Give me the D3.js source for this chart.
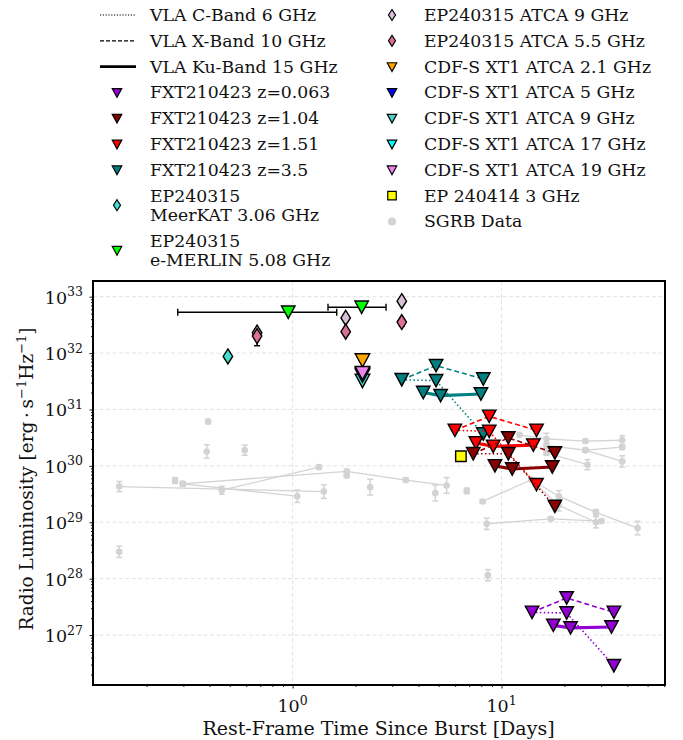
<!DOCTYPE html>
<html>
<head>
<meta charset="utf-8">
<title>Radio luminosity vs time</title>
<style>
  body { margin: 0; background: #fff; }
  text { font-family: "DejaVu Serif", serif; fill: #111; }
</style>
</head>
<body>
<script src="https://d3js.org/d3.v7.min.js"></script>
<script>
var width = 683, height = 740;
var plot = {left: 93, right: 665, top: 281, bottom: 685};

// ---- data: [rest-frame days, luminosity] ----
// FXT210423 upper limits, per redshift and VLA band
var fxt063C  = [[14.0, 2.53e27], [20.5, 2.46e27], [34.5, 2.86e26]];
var fxt063X  = [[14.0, 2.53e27], [20.5, 4.55e27], [34.5, 2.53e27]];
var fxt063Ku = [[17.7, 1.49e27], [21.4, 1.34e27], [33.6, 1.39e27]];

var fxt104C  = [[7.32, 1.64e30], [10.78, 1.64e30], [18.0, 1.91e29]];
var fxt104X  = [[7.32, 1.64e30], [10.78, 3.13e30], [18.0, 1.69e30]];
var fxt104Ku = [[9.3, 1.0e30], [11.25, 8.8e29], [17.5, 9.55e29]];

var fxt151C  = [[5.98, 4.27e30], [8.73, 4.1e30], [14.7, 4.64e29]];
var fxt151X  = [[5.98, 4.27e30], [8.73, 7.55e30], [14.7, 4.27e30]];
var fxt151Ku = [[7.54, 2.55e30], [9.12, 2.22e30], [14.2, 2.34e30]];

var fxt35C  = [[3.33, 3.37e31], [4.86, 3.24e31], [8.18, 3.68e30]];
var fxt35X  = [[3.33, 3.37e31], [4.86, 5.98e31], [8.18, 3.47e31]];
var fxt35Ku = [[4.22, 2.0e31], [5.11, 1.76e31], [7.97, 1.88e31]];

// EP240315
var epMeerkat = [[0.49, 8.7e31]];
var epMerlin  = [[0.953, 5.3e32], [2.14, 6.5e32]];
var epMerlinTimeErr = [[0.282, 1.626], [1.477, 2.80]];
var epAtca9   = [[0.676, 2.3e32], [1.795, 4.2e32], [3.33, 8.3e32]];
var epAtca55  = [[0.676, 2.0e32], [1.795, 2.4e32], [3.33, 3.55e32]];
var epAtca55Err = [[1.35e32, 2.7e32], null, [3.0e32, 3.9e32]];

// CDF-S XT1 (ATCA)
var cdfs21 = [[2.16, 7.4e31]];
var cdfs5  = [[2.16, 4.2e31]];
var cdfs9  = [[2.16, 3.2e31]];
var cdfs17 = [[2.16, 4.0e31]];
var cdfs19 = [[2.16, 4.4e31]];

// EP 240414
var ep240414 = [[6.39, 1.48e30]];

// SGRB comparison sample: [days, luminosity, error in dex]
var sgrbTracks = [
  [[0.148, 4.3e29, 0.09], [1.41, 3.5e29, 0.12]],
  [[0.298, 4.8e29, 0.04], [1.053, 2.9e29, 0.11]],
  [[0.458, 3.7e29, 0.07], [1.337, 9.5e29, 0.03]],
  [[0.298, 4.8e29, 0.04], [1.815, 8.0e29, 0.03], [3.48, 5.6e29, 0.04], [5.46, 4.5e29, 0.14]],
  [[8.12, 2.34e29, 0.03], [13.9, 5.7e29, 0.03], [18.8, 2.9e29, 0.1], [28.3, 1.5e29, 0.05], [44.8, 7.9e28, 0.12]],
  [[8.49, 9.4e28, 0.1], [17.2, 1.15e29, 0.03], [30.1, 1.05e29, 0.03]],
  [[14.5, 4.8e29, 0.03], [18.8, 2.0e29, 0.1], [28.3, 1.0e29, 0.1]],
  [[12.2, 3.55e30, 0.03], [16.4, 3.0e30, 0.1], [25.2, 2.75e30, 0.03], [37.8, 2.85e30, 0.08]],
  [[16.4, 2.3e30, 0.05], [25.2, 1.9e30, 0.03], [37.8, 2.15e30, 0.04]],
  [[16.4, 1.7e30, 0.04], [25.8, 1.05e30, 0.09]],
  [[25.2, 1.9e30, 0.03], [37.8, 1.2e30, 0.1]]
];
var sgrbSingles = [
  [0.274, 5.5e29, 0.05], [0.148, 3.0e28, 0.1], [0.394, 6.1e30, 0.04],
  [0.388, 1.8e30, 0.12], [0.59, 1.9e30, 0.09], [1.815, 6.7e29, 0.03],
  [2.35, 4.2e29, 0.14], [4.82, 3.3e29, 0.14], [6.81, 3.6e29, 0.05],
  [8.6, 1.15e28, 0.1]
];

var xTickValues = [1, 10];
var yTickValues = [1e27, 1e28, 1e29, 1e30, 1e31, 1e32, 1e33];

// ---- scales ----
var x = d3.scaleLog().domain([0.1108, 60.6]).range([plot.left, plot.right]);
var y = d3.scaleLog().domain([1.303e26, 1.897e33]).range([plot.bottom, plot.top]);

var svg = d3.select('body').append('svg')
  .attr('width', width).attr('height', height);

svg.append('defs').append('clipPath').attr('id', 'clip')
  .append('rect').attr('x', plot.left).attr('y', plot.top)
  .attr('width', plot.right - plot.left).attr('height', plot.bottom - plot.top);

// grid
var grid = svg.append('g').attr('stroke', '#e3e3e3').attr('stroke-width', 1)
  .attr('stroke-dasharray', '4,2.5');
grid.selectAll('.gx').data(xTickValues).enter().append('line')
  .attr('x1', function(d){ return x(d); }).attr('x2', function(d){ return x(d); })
  .attr('y1', plot.top).attr('y2', plot.bottom);
grid.selectAll('.gy').data(yTickValues).enter().append('line')
  .attr('y1', function(d){ return y(d); }).attr('y2', function(d){ return y(d); })
  .attr('x1', plot.left).attr('x2', plot.right);

// marker shapes
function triDown(s) {
  var h = s * 0.92;
  return 'M' + (-s/2) + ',' + (-h/2) + 'L' + (s/2) + ',' + (-h/2) + 'L0,' + (h/2) + 'Z';
}
function diamond(w, h) {
  return 'M0,' + (-h/2) + 'L' + (w/2) + ',0L0,' + (h/2) + 'L' + (-w/2) + ',0Z';
}
function square(s) {
  return 'M' + (-s/2) + ',' + (-s/2) + 'h' + s + 'v' + s + 'h' + (-s) + 'Z';
}

var body = svg.append('g').attr('clip-path', 'url(#clip)');
var line = d3.line().x(function(d){ return x(d[0]); }).y(function(d){ return y(d[1]); });

// SGRB
var gray = '#d3d3d3';
sgrbTracks.forEach(function(tr) {
  body.append('path').datum(tr).attr('d', line)
    .attr('fill', 'none').attr('stroke', gray).attr('stroke-width', 1.3);
});
var sgrbAll = [].concat.apply([], sgrbTracks).concat(sgrbSingles);
var eb = body.append('g').attr('stroke', gray).attr('stroke-width', 1.5);
sgrbAll.forEach(function(d) {
  var px = x(d[0]), y1 = y(d[1] * Math.pow(10, -d[2])), y2 = y(d[1] * Math.pow(10, d[2]));
  eb.append('line').attr('x1', px).attr('x2', px).attr('y1', y1).attr('y2', y2);
  eb.append('line').attr('x1', px - 3).attr('x2', px + 3).attr('y1', y1).attr('y2', y1);
  eb.append('line').attr('x1', px - 3).attr('x2', px + 3).attr('y1', y2).attr('y2', y2);
});
body.append('g').selectAll('circle').data(sgrbAll).enter().append('circle')
  .attr('cx', function(d){ return x(d[0]); }).attr('cy', function(d){ return y(d[1]); })
  .attr('r', 3.3).attr('fill', gray);

// FXT210423
var fxtGroups = [
  {color: '#9400d3', C: fxt063C, X: fxt063X, Ku: fxt063Ku},
  {color: '#008080', C: fxt35C, X: fxt35X, Ku: fxt35Ku},
  {color: '#ff0000', C: fxt151C, X: fxt151X, Ku: fxt151Ku},
  {color: '#8b0000', C: fxt104C, X: fxt104X, Ku: fxt104Ku}
];
var bandStyle = {
  C:  {dash: '1.5,2.4', w: 1.6},
  X:  {dash: '5,3', w: 1.6},
  Ku: {dash: null, w: 3.2}
};
function drawMarkers(g, data, path, fill) {
  g.selectAll(null).data(data).enter().append('path')
    .attr('d', path)
    .attr('transform', function(d){ return 'translate(' + x(d[0]) + ',' + y(d[1]) + ')'; })
    .attr('fill', fill).attr('stroke', '#000').attr('stroke-width', 1.4)
    .attr('stroke-linejoin', 'miter');
}
fxtGroups.forEach(function(gr) {
  ['C', 'X', 'Ku'].forEach(function(b) {
    body.append('path').datum(gr[b]).attr('d', line)
      .attr('fill', 'none').attr('stroke', gr.color)
      .attr('stroke-width', bandStyle[b].w)
      .attr('stroke-dasharray', bandStyle[b].dash);
  });
  var g = body.append('g');
  drawMarkers(g, gr.C.concat(gr.X.slice(1)).concat(gr.Ku), triDown(13.5), gr.color);
});

// EP240315 error bars
var errG = body.append('g').attr('stroke', '#000').attr('stroke-width', 1.4);
epMerlin.forEach(function(d, i) {
  var e = epMerlinTimeErr[i], py = y(d[1]);
  errG.append('line').attr('x1', x(e[0])).attr('x2', x(e[1])).attr('y1', py).attr('y2', py);
  errG.append('line').attr('x1', x(e[0])).attr('x2', x(e[0])).attr('y1', py - 3.5).attr('y2', py + 3.5);
  errG.append('line').attr('x1', x(e[1])).attr('x2', x(e[1])).attr('y1', py - 3.5).attr('y2', py + 3.5);
});
epAtca55.forEach(function(d, i) {
  var e = epAtca55Err[i];
  if (!e) return;
  var px = x(d[0]);
  errG.append('line').attr('x1', px).attr('x2', px).attr('y1', y(e[0])).attr('y2', y(e[1]));
  errG.append('line').attr('x1', px - 3).attr('x2', px + 3).attr('y1', y(e[0])).attr('y2', y(e[0]));
  errG.append('line').attr('x1', px - 3).attr('x2', px + 3).attr('y1', y(e[1])).attr('y2', y(e[1]));
});
var mk = body.append('g');
drawMarkers(mk, epMeerkat, diamond(9.5, 15), '#40e0d0');
drawMarkers(mk, epMerlin, triDown(13.5), '#00ff00');
drawMarkers(mk, epAtca9, diamond(9.5, 15), '#d8bfd8');
drawMarkers(mk, epAtca55, diamond(9.5, 15), '#db7093');

// CDF-S XT1
drawMarkers(mk, cdfs21, triDown(14.5), '#ffa500');
drawMarkers(mk, cdfs5, triDown(14.5), '#0000ff');
drawMarkers(mk, cdfs9, triDown(14.5), '#48d1cc');
drawMarkers(mk, cdfs17, triDown(14.5), '#00ffff');
drawMarkers(mk, cdfs19, triDown(14.5), '#ee82ee');

// EP 240414
drawMarkers(mk, ep240414, square(10.5), '#ffff00');

// ---- axes ----
function minorTicks(lo, hi) {
  var out = [];
  for (var e = Math.floor(Math.log10(lo)) - 1; e <= Math.ceil(Math.log10(hi)); e++) {
    for (var k = 1; k < 10; k++) {
      var v = k * Math.pow(10, e);
      if (v >= lo && v <= hi) out.push(v);
    }
  }
  return out;
}
var xMinor = minorTicks(x.domain()[0], x.domain()[1]).filter(function(v){ return xTickValues.indexOf(v) < 0; });
var yMinor = minorTicks(y.domain()[0], y.domain()[1]).filter(function(v){
  return yTickValues.every(function(t){ return Math.abs(v / t - 1) > 1e-6; });
});

var xAxisMinor = d3.axisBottom(x).tickValues(xMinor).tickSize(2).tickFormat('');
var xAxisMajor = d3.axisBottom(x).tickValues(xTickValues).tickSize(3.5).tickFormat('');
var yAxisMinor = d3.axisLeft(y).tickValues(yMinor).tickSize(2).tickFormat('');
var yAxisMajor = d3.axisLeft(y).tickValues(yTickValues).tickSize(3.5).tickFormat('');

[xAxisMinor, xAxisMajor].forEach(function(a) {
  svg.append('g').attr('transform', 'translate(0,' + plot.bottom + ')').call(a)
    .call(function(g){ g.select('.domain').remove(); g.selectAll('line').attr('stroke', '#000').attr('stroke-width', 0.9); });
});
[yAxisMinor, yAxisMajor].forEach(function(a) {
  svg.append('g').attr('transform', 'translate(' + plot.left + ',0)').call(a)
    .call(function(g){ g.select('.domain').remove(); g.selectAll('line').attr('stroke', '#000').attr('stroke-width', 0.9); });
});

function powLabel(sel, exp, anchor) {
  sel.attr('text-anchor', anchor).attr('font-size', 17.5);
  sel.append('tspan').text('10');
  sel.append('tspan').attr('font-size', 12.5).attr('dy', -7.5).text(exp);
}
xTickValues.forEach(function(v) {
  powLabel(svg.append('text').attr('x', x(v)).attr('y', 712), String(Math.round(Math.log10(v))), 'middle');
});
yTickValues.forEach(function(v) {
  powLabel(svg.append('text').attr('x', 83).attr('y', y(v) + 7), String(Math.round(Math.log10(v))), 'end');
});

// frame
svg.append('rect').attr('x', plot.left).attr('y', plot.top)
  .attr('width', plot.right - plot.left).attr('height', plot.bottom - plot.top)
  .attr('fill', 'none').attr('stroke', '#000').attr('stroke-width', 2);

// axis labels
svg.append('text').attr('x', (plot.left + plot.right) / 2 - 0.5).attr('y', 735)
  .attr('text-anchor', 'middle').attr('font-size', 19)
  .text('Rest-Frame Time Since Burst [Days]');

var yl = svg.append('text').attr('transform', 'translate(33,' + ((plot.top + plot.bottom) / 2 - 4) + ') rotate(-90)')
  .attr('text-anchor', 'middle').attr('font-size', 18.5);
yl.append('tspan').text('Radio Luminosity [erg\u2009\u00b7\u2009s');
yl.append('tspan').attr('font-size', 13).attr('dy', -7).text('\u22121');
yl.append('tspan').attr('dy', 7).text('Hz');
yl.append('tspan').attr('font-size', 13).attr('dy', -7).text('\u22121');
yl.append('tspan').attr('dy', 7).text(']');

// ---- legend ----
var legendLeft = [
  {label: ['VLA C-Band 6 GHz'], kind: 'line', dash: '1.2,1.6', w: 1.2},
  {label: ['VLA X-Band 10 GHz'], kind: 'line', dash: '4,2', w: 1.2},
  {label: ['VLA Ku-Band 15 GHz'], kind: 'line', dash: null, w: 2.8},
  {label: ['FXT210423 z=0.063'], kind: 'tri', fill: '#9400d3'},
  {label: ['FXT210423 z=1.04'], kind: 'tri', fill: '#8b0000'},
  {label: ['FXT210423 z=1.51'], kind: 'tri', fill: '#ff0000'},
  {label: ['FXT210423 z=3.5'], kind: 'tri', fill: '#008080'},
  {label: ['EP240315', 'MeerKAT 3.06 GHz'], kind: 'dia', fill: '#40e0d0'},
  {label: ['EP240315', 'e-MERLIN 5.08 GHz'], kind: 'tri', fill: '#00ff00'}
];
var legendRight = [
  {label: ['EP240315 ATCA 9 GHz'], kind: 'dia', fill: '#d8bfd8'},
  {label: ['EP240315 ATCA 5.5 GHz'], kind: 'dia', fill: '#db7093'},
  {label: ['CDF-S XT1 ATCA 2.1 GHz'], kind: 'tri', fill: '#ffa500'},
  {label: ['CDF-S XT1 ATCA 5 GHz'], kind: 'tri', fill: '#0000ff'},
  {label: ['CDF-S XT1 ATCA 9 GHz'], kind: 'tri', fill: '#48d1cc'},
  {label: ['CDF-S XT1 ATCA 17 GHz'], kind: 'tri', fill: '#00ffff'},
  {label: ['CDF-S XT1 ATCA 19 GHz'], kind: 'tri', fill: '#ee82ee'},
  {label: ['EP 240414 3 GHz'], kind: 'sq', fill: '#ffff00'},
  {label: ['SGRB Data'], kind: 'dot', fill: '#d3d3d3'}
];

function drawLegend(items, mx, tx, y0) {
  var cy = y0;
  items.forEach(function(it) {
    var n = it.label.length;
    var my = cy + (n - 1) * 9.6;
    var g = svg.append('g');
    if (it.kind === 'line') {
      g.append('line').attr('x1', mx - 17).attr('x2', mx + 19).attr('y1', my).attr('y2', my)
        .attr('stroke', '#000').attr('stroke-width', it.w).attr('stroke-dasharray', it.dash);
    } else if (it.kind === 'tri') {
      g.append('path').attr('d', triDown(9.5)).attr('transform', 'translate(' + mx + ',' + (my + 0.5) + ')')
        .attr('fill', it.fill).attr('stroke', '#000').attr('stroke-width', 1.2);
    } else if (it.kind === 'dia') {
      g.append('path').attr('d', diamond(7, 11)).attr('transform', 'translate(' + mx + ',' + my + ')')
        .attr('fill', it.fill).attr('stroke', '#000').attr('stroke-width', 1.2);
    } else if (it.kind === 'sq') {
      g.append('path').attr('d', square(8.5)).attr('transform', 'translate(' + mx + ',' + my + ')')
        .attr('fill', it.fill).attr('stroke', '#000').attr('stroke-width', 1.2);
    } else {
      g.append('circle').attr('cx', mx).attr('cy', my).attr('r', 4).attr('fill', it.fill);
    }
    it.label.forEach(function(s, i) {
      g.append('text').attr('x', tx).attr('y', cy + 6 + i * 19.3).attr('font-size', 17.3).text(s);
    });
    cy += 25.8 + (n - 1) * 19.3;
  });
}
drawLegend(legendLeft, 117, 150, 15);
drawLegend(legendRight, 392, 424, 15);
</script>
</body>
</html>
